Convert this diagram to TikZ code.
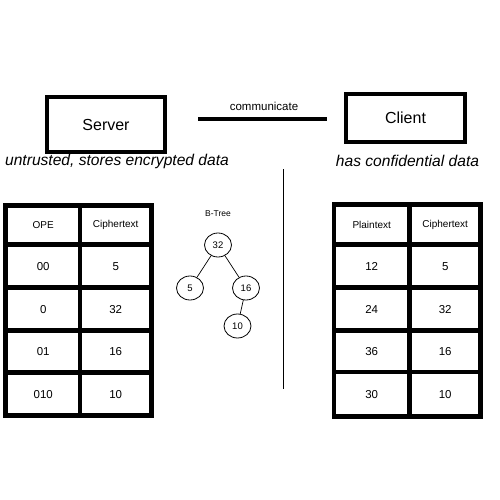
\documentclass[tikz,border=0pt]{standalone}
\usepackage{fontspec}
\setmainfont{Liberation Sans}
\usetikzlibrary{shapes.geometric}
\begin{document}
\begin{tikzpicture}[x=1pt,y=-1pt,
  bigbox/.style={draw,line width=4pt,inner sep=0pt,font=\fontsize{16}{19}\selectfont},
  caption/.style={inner sep=0pt,font=\fontsize{15.6}{19}\selectfont\itshape},
  small/.style={inner sep=0pt,font=\fontsize{11.5}{13}\selectfont},
  tablebg/.style={fill=black},
  cell/.style={fill=white,inner sep=0pt,anchor=north west,font=\fontsize{11.5}{13}\selectfont},
  hcell/.style={cell,font=\fontsize{10}{12}\selectfont},
  tnode/.style={ellipse,draw,line width=0.8pt,inner sep=0pt,minimum width=27pt,minimum height=24pt,font=\fontsize{9.5}{11}\selectfont},
  tedge/.style={line width=0.7pt},
  thickline/.style={line width=4pt},
  thinline/.style={line width=1pt}
]
\useasboundingbox (0,0) rectangle (500,500);

% top boxes
\node[bigbox,minimum width=118pt,minimum height=55pt] (server) at (106,124.5) {Server};
\node[bigbox,minimum width=119pt,minimum height=48pt] (client) at (405.5,118) {Client};
\coordinate (c1) at (198,119);
\coordinate (c2) at (327,119);
\draw[thickline] (c1) -- (c2);
\node[small] (comm) at (264,106) {communicate};
\node[caption] (servercap) at (117,161) {untrusted, stores encrypted data};
\node[caption] (clientcap) at (407.5,160.5) {has confidential data};

% divider
\coordinate (v1) at (283.5,169);
\coordinate (v2) at (283.5,389);
\draw[thinline] (v1) -- (v2);

% left table
\fill[tablebg] (3,203) rectangle (154,418);
\node[hcell,minimum width=70pt,minimum height=34pt] (L01) at (8,208) {OPE};
\node[hcell,minimum width=67pt,minimum height=34pt] (L02) at (82,208) {Ciphertext};
\node[cell,minimum width=70pt,minimum height=38pt] (L11) at (8,247) {00};
\node[cell,minimum width=67pt,minimum height=38pt] (L12) at (82,247) {5};
\node[cell,minimum width=70pt,minimum height=38pt] (L21) at (8,290) {0};
\node[cell,minimum width=67pt,minimum height=38pt] (L22) at (82,290) {32};
\node[cell,minimum width=70pt,minimum height=37pt] (L31) at (8,333) {01};
\node[cell,minimum width=67pt,minimum height=37pt] (L32) at (82,333) {16};
\node[cell,minimum width=70pt,minimum height=38pt] (L41) at (8,375) {010};
\node[cell,minimum width=67pt,minimum height=38pt] (L42) at (82,375) {10};

% right table
\fill[tablebg] (332,202) rectangle (483,419);
\node[hcell,minimum width=71pt,minimum height=35pt] (R01) at (336,207) {Plaintext};
\node[hcell,minimum width=66pt,minimum height=35pt] (R02) at (412,207) {Ciphertext};
\node[cell,minimum width=71pt,minimum height=38pt] (R11) at (336,247) {12};
\node[cell,minimum width=66pt,minimum height=38pt] (R12) at (412,247) {5};
\node[cell,minimum width=71pt,minimum height=38pt] (R21) at (336,290) {24};
\node[cell,minimum width=66pt,minimum height=38pt] (R22) at (412,290) {32};
\node[cell,minimum width=71pt,minimum height=37pt] (R31) at (336,333) {36};
\node[cell,minimum width=66pt,minimum height=37pt] (R32) at (412,333) {16};
\node[cell,minimum width=71pt,minimum height=40pt] (R41) at (336,374) {30};
\node[cell,minimum width=66pt,minimum height=40pt] (R42) at (412,374) {10};

% tree
\node[inner sep=0pt,font=\fontsize{8.5}{10}\selectfont] (btree) at (218,214) {B-Tree};
\node[tnode] (t32) at (218,245) {32};
\node[tnode] (t5) at (190,288) {5};
\node[tnode] (t16) at (246,288) {16};
\node[tnode] (t10) at (237.5,326) {10};
\draw[tedge] (t32) -- (t5);
\draw[tedge] (t32) -- (t16);
\draw[tedge] (t16) -- (t10);
\end{tikzpicture}
\end{document}
